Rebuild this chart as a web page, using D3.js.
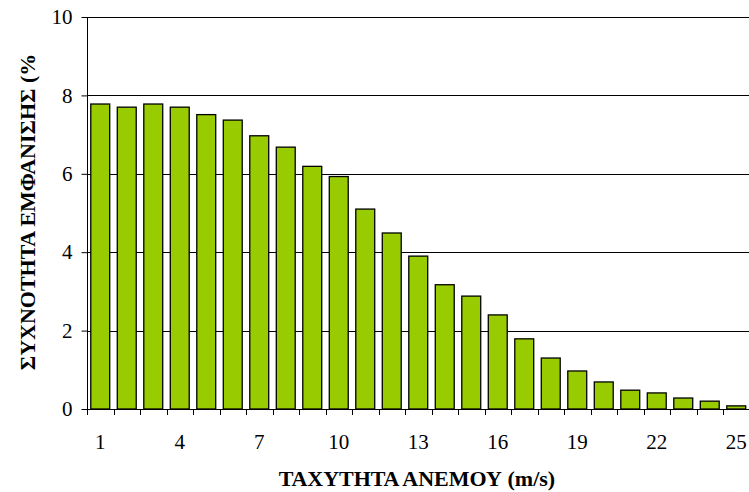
<!DOCTYPE html>
<html><head><meta charset="utf-8">
<script src="https://cdn.jsdelivr.net/npm/d3@7"></script>
<style>body{margin:0;background:#fff}svg{display:block}</style>
</head><body>
<svg id="c" width="749" height="492"></svg>
<script>
const categories = d3.range(1, 26);
const values = [7.78, 7.7, 7.78, 7.7, 7.51, 7.37, 6.97, 6.68, 6.19, 5.93, 5.1, 4.49, 3.9, 3.17, 2.88, 2.4, 1.79, 1.3, 0.97, 0.69, 0.48, 0.41, 0.28, 0.2, 0.08];
const yTicks = [0, 2, 4, 6, 8, 10];
const xTickLabels = [1, 4, 7, 10, 13, 16, 19, 22, 25];
const yTitle = "ΣΥΧΝΟΤΗΤΑ ΕΜΦΑΝΙΣΗΣ (%";
const xTitle = "ΤΑΧΥΤΗΤΑ ΑΝΕΜΟΥ (m/s)";

const svg = d3.select("#c");
const L = 87, R = 749.5, T = 17, B = 409;
const font = "Liberation Serif, Times New Roman, serif";

const x = d3.scaleBand().domain(categories).range([L, R]).paddingInner(0.4/1.4).paddingOuter(0.2/1.4);
const y = d3.scaleLinear().domain([0, 10]).range([B, T]);

// gridlines
svg.append("g").selectAll("line").data(yTicks.filter(d => d > 0)).join("line")
  .attr("x1", L).attr("x2", 749).attr("y1", d => Math.round(y(d)) + 0.5).attr("y2", d => Math.round(y(d)) + 0.5)
  .attr("stroke", "#000").attr("stroke-width", 1);

// bars
svg.append("g").selectAll("rect").data(categories).join("rect")
  .attr("x", d => x(d)).attr("width", x.bandwidth())
  .attr("y", (d, i) => y(values[i])).attr("height", (d, i) => B - y(values[i]))
  .attr("fill", "#99CC00").attr("stroke", "#000").attr("stroke-width", 1.3);

// y axis
const yAxis = svg.append("g").attr("transform", `translate(${L + 0.5},0)`)
  .call(d3.axisLeft(y).tickValues(yTicks).tickSize(6).tickPadding(9).tickFormat(d3.format("d")));
yAxis.select(".domain").attr("stroke", "#000").attr("d", `M0,${T}V${B}`);
yAxis.selectAll("text").attr("font-family", font).attr("font-size", 21).attr("fill", "#000");

// x axis: ticks at category boundaries
const step = x.step();
const bounds = d3.range(0, categories.length + 1).map(i => L + i * step);
svg.append("line").attr("x1", L).attr("x2", 749).attr("y1", B + 0.5).attr("y2", B + 0.5).attr("stroke", "#000");
svg.append("g").selectAll("line").data(bounds.slice(0, -1)).join("line")
  .attr("x1", d => Math.round(d) + 0.5).attr("x2", d => Math.round(d) + 0.5)
  .attr("y1", B).attr("y2", B + 6).attr("stroke", "#000");
svg.append("g").selectAll("text").data(xTickLabels).join("text")
  .attr("x", d => x(d) + x.bandwidth() / 2).attr("y", 449)
  .attr("text-anchor", "middle").attr("font-family", font).attr("font-size", 21).text(d => d);

// titles
svg.append("text").attr("x", 417).attr("y", 486).attr("text-anchor", "middle")
  .attr("font-family", font).attr("font-size", 22).attr("font-weight", "bold").text(xTitle);
svg.append("text").attr("transform", "translate(35,212) rotate(-90)").attr("text-anchor", "middle")
  .attr("font-family", font).attr("font-size", 22).attr("font-weight", "bold").text(yTitle);
</script>
</body></html>
